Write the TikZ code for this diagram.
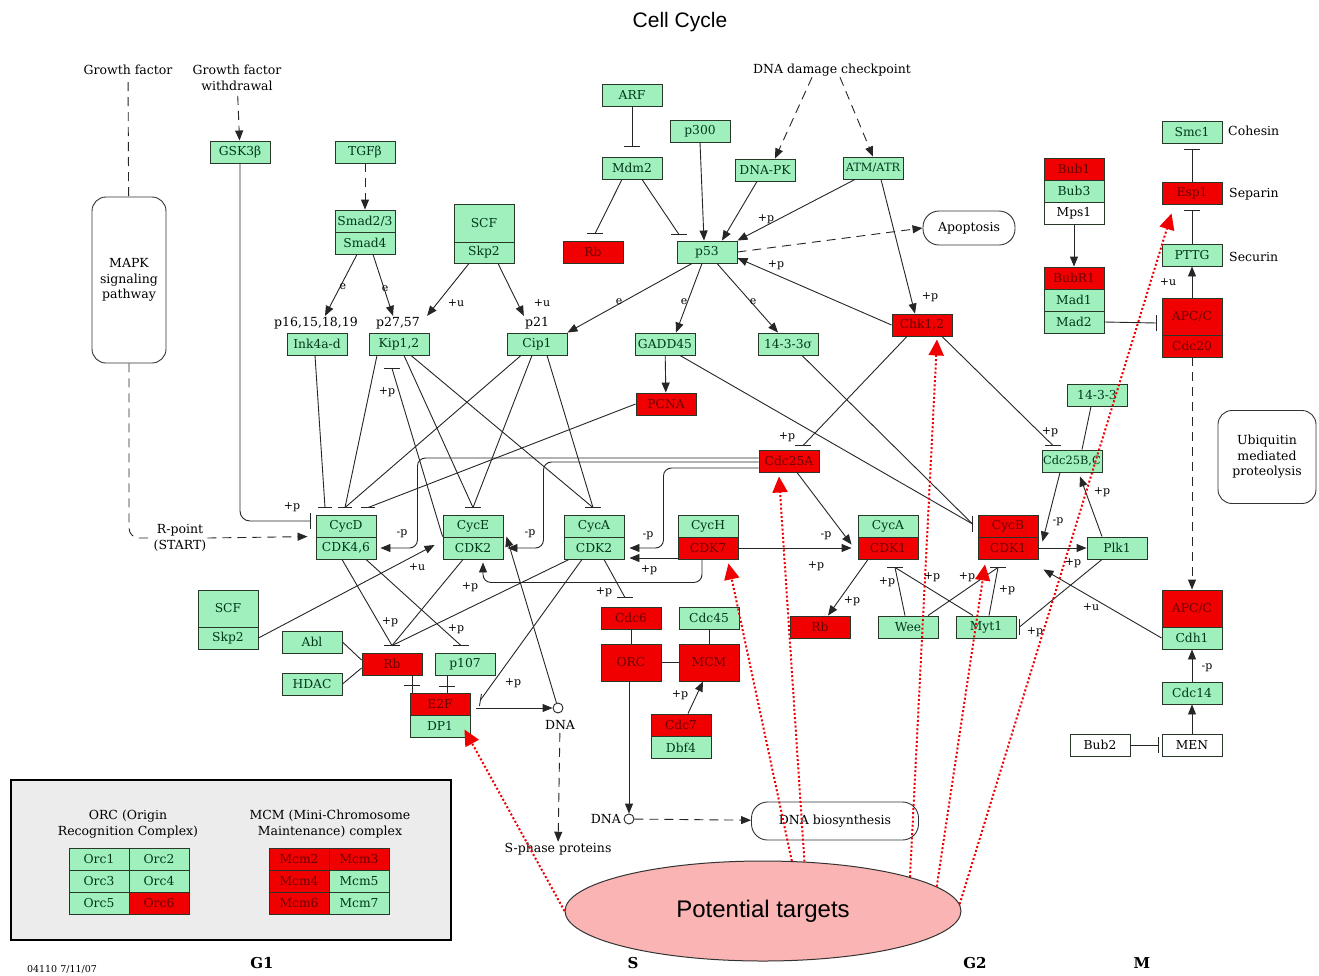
\documentclass[tikz,border=0pt]{standalone}
\usepackage{fontspec}
\setmainfont{DejaVu Serif}
\newfontfamily\sansf{Liberation Sans}
\usetikzlibrary{arrows.meta,shapes.geometric}
\definecolor{kg}{RGB}{160,240,190}
\definecolor{kr}{RGB}{240,0,0}
\definecolor{kdr}{RGB}{110,0,0}
\definecolor{kdg}{RGB}{0,55,25}
\definecolor{kb}{RGB}{40,55,40}
\definecolor{pk}{RGB}{250,180,180}
\definecolor{lgr}{RGB}{236,236,236}
\newcommand\fbx{\fontsize{12.3}{14}\selectfont}
\newcommand\fsm{\fontsize{11.4}{14}\selectfont}
\newcommand\ftx{\fontsize{12.5}{15.5}\selectfont}
\newcommand\flb{\fontsize{11}{12}\selectfont}
\newcommand\kbh[1]{\draw[ln] ([xshift=-8pt]#1) -- ([xshift=8pt]#1);}
\newcommand\kbv[1]{\draw[ln] ([yshift=-8pt]#1) -- ([yshift=8pt]#1);}
\begin{document}
\begin{tikzpicture}[x=1pt,y=-1pt,
  box/.style={rectangle, draw=kb, line width=0.9pt, minimum width=60pt, minimum height=22pt, inner sep=0pt, font=\fbx},
  gb/.style={box, fill=kg, text=kdg},
  rb/.style={box, fill=kr, text=kdr},
  wb/.style={box, fill=white, text=black},
  rnd/.style={rectangle, rounded corners=14pt, draw=black!80, line width=0.9pt, align=center, font=\ftx, inner sep=0pt},
  txt/.style={font=\ftx, align=center, inner sep=1pt},
  lbl/.style={font=\flb, inner sep=1pt},
  ln/.style={draw=black!85, line width=0.9pt},
  arr/.style={ln, -{Triangle[length=10pt,width=8pt]}},
  dsh/.style={ln, dash pattern=on 9pt off 6pt},
  dsha/.style={dsh, -{Triangle[length=10pt,width=8pt]}},
  tgt/.style={draw=kr, line width=2pt, dash pattern=on 2pt off 2.2pt, -{Triangle[length=16pt,width=15pt,fill=kr]}}
]
\useasboundingbox (0,0) rectangle (1319,975);
\fill[white] (0,0) rectangle (1319,975);

% ---------- titles and free texts
\node[font=\sansf\fontsize{21}{24}\selectfont] (title) at (680,22) {Cell Cycle};
\node[txt] (gf) at (128,70) {Growth factor};
\node[txt] (gfw) at (237,78) {Growth factor\\withdrawal};
\node[txt] (ddc) at (832,70) {DNA damage checkpoint};
\node[txt] (rpt) at (180,538) {R-point\\(START)};

% ---------- legend
\node[draw=black, line width=2pt, fill=lgr, minimum width=440pt, minimum height=160pt, inner sep=0pt] (leg) at (231,860) {};
\node[txt] (orct) at (128,824) {ORC (Origin\\Recognition Complex)};
\node[txt] (mcmt) at (330,824) {MCM (Mini-Chromosome\\Maintenance) complex};
\node[gb] (orc1) at (99,859) {Orc1};
\node[gb] (orc2) at (159,859) {Orc2};
\node[gb] (orc3) at (99,881) {Orc3};
\node[gb] (orc4) at (159,881) {Orc4};
\node[gb] (orc5) at (99,903) {Orc5};
\node[rb] (orc6) at (159,903) {Orc6};
\node[rb] (mcm2) at (299,859) {Mcm2};
\node[rb] (mcm3) at (359,859) {Mcm3};
\node[rb] (mcm4) at (299,881) {Mcm4};
\node[gb] (mcm5) at (359,881) {Mcm5};
\node[rb] (mcm6) at (299,903) {Mcm6};
\node[gb] (mcm7) at (359,903) {Mcm7};

% ---------- boxes
\node[rnd, minimum width=74pt, minimum height=166pt] (mapk) at (129,280) {MAPK\\signaling\\pathway};
\node[gb] (gsk) at (240,152) {GSK3β};
\node[gb] (tgf) at (365,152) {TGFβ};
\node[gb] (smad23) at (365,221) {Smad2/3};
\node[gb] (smad4) at (365,243) {Smad4};
\node[gb, minimum height=38pt] (scf1) at (484,223) {SCF};
\node[gb, minimum height=21pt] (skp2a) at (484,252.5) {Skp2};
\node[gb] (arf) at (632,95) {ARF};
\node[gb] (mdm2) at (632,168) {Mdm2};
\node[gb] (p300) at (700,131) {p300};
\node[gb] (dnapk) at (765,170) {DNA-PK};
\node[gb, font=\fsm] (atm) at (873,168) {ATM/ATR};
\node[rb] (rbtop) at (593,252) {Rb};
\node[gb] (p53) at (707,252) {p53};
\node[rnd, minimum width=92pt, minimum height=34pt, rounded corners=16pt] (apop) at (969,228) {Apoptosis};
\node[gb] (ink4) at (317,344) {Ink4a-d};
\node[txt] (l16) at (316,323) {p16,15,18,19};
\node[gb] (kip) at (399,344) {Kip1,2};
\node[txt] (l27) at (398,323) {p27,57};
\node[gb] (cip) at (537,344) {Cip1};
\node[txt] (l21) at (537,323) {p21};
\node[gb] (gadd) at (665,344) {GADD45};
\node[gb] (s1433s) at (788,344) {14-3-3σ};
\node[rb] (chk) at (922,325) {Chk1,2};
\node[rb] (bub1) at (1074,169) {Bub1};
\node[gb] (bub3) at (1074,191) {Bub3};
\node[wb] (mps1) at (1074,213) {Mps1};
\node[rb] (bubr1) at (1074,278) {BubR1};
\node[gb] (mad1) at (1074,300) {Mad1};
\node[gb] (mad2) at (1074,322) {Mad2};
\node[gb] (smc1) at (1192,132) {Smc1};
\node[txt, anchor=west] (coh) at (1227,131) {Cohesin};
\node[rb] (esp1) at (1192,193) {Esp1};
\node[txt, anchor=west] (sep) at (1228,194) {Separin};
\node[gb] (pttg) at (1192,255) {PTTG};
\node[txt, anchor=west] (sec) at (1228,257) {Securin};
\node[rb, minimum height=37pt] (apcc1) at (1192,316.5) {APC/C};
\node[rb] (cdc20) at (1192,346) {Cdc20};
\node[gb] (s1433) at (1097,395) {14-3-3};
\node[rnd, minimum width=98pt, minimum height=93pt] (ubq) at (1267,457) {Ubiquitin\\mediated\\proteolysis};
\node[gb, font=\fsm] (cdc25bc) at (1072,461) {Cdc25B,C};
\node[rb] (pcna) at (666,404) {PCNA};
\node[rb] (cdc25a) at (789,461) {Cdc25A};
\node[gb] (cycd) at (346,526) {CycD};
\node[gb] (cdk46) at (346,548) {CDK4,6};
\node[gb] (cyce) at (473,526) {CycE};
\node[gb] (cdk2e) at (473,548) {CDK2};
\node[gb] (cyca2) at (594,526) {CycA};
\node[gb] (cdk2a) at (594,548) {CDK2};
\node[gb] (cych) at (708,526) {CycH};
\node[rb] (cdk7) at (708,548) {CDK7};
\node[gb] (cyca1) at (888,526) {CycA};
\node[rb] (cdk1a) at (888,548) {CDK1};
\node[rb] (cycb) at (1008,526) {CycB};
\node[rb] (cdk1b) at (1008,548) {CDK1};
\node[gb] (plk1) at (1117,548) {Plk1};
\node[rb] (rbr) at (820,627) {Rb};
\node[gb] (wee) at (908,627) {Wee};
\node[gb] (myt1) at (986,627) {Myt1};
\node[rb, minimum height=37pt] (apcc2) at (1192,608.5) {APC/C};
\node[gb] (cdh1) at (1192,638) {Cdh1};
\node[gb] (cdc14) at (1192,693) {Cdc14};
\node[wb] (bub2) at (1100,745) {Bub2};
\node[wb] (men) at (1192,745) {MEN};
\node[gb] (abl) at (312,642) {Abl};
\node[gb] (hdac) at (312,684) {HDAC};
\node[gb, minimum height=37pt] (scf2) at (228,608.5) {SCF};
\node[gb] (skp2b) at (228,638) {Skp2};
\node[rb] (rbl) at (392,664) {Rb};
\node[gb] (p107) at (465,664) {p107};
\node[rb] (e2f) at (440,704) {E2F};
\node[gb] (dp1) at (440,726) {DP1};
\node[circle, draw=black!85, line width=0.9pt, minimum size=10pt, inner sep=0pt] (dna1) at (558,708) {};
\node[txt] (dnal1) at (560,725) {DNA};
\node[rb] (cdc6) at (631,618) {Cdc6};
\node[rb, minimum height=37pt] (orc) at (631,662.5) {ORC};
\node[gb] (cdc45) at (709,618) {Cdc45};
\node[rb, minimum height=37pt] (mcm) at (709,662.5) {MCM};
\node[rb] (cdc7) at (681,725) {Cdc7};
\node[gb] (dbf4) at (681,747.5) {Dbf4};
\node[circle, draw=black!85, line width=0.9pt, minimum size=10pt, inner sep=0pt] (dna2) at (629,819) {};
\node[txt, anchor=east] (dnal2) at (622,819) {DNA};
\node[txt] (sph) at (558,849) {S-phase proteins};
\node[rnd, minimum width=167pt, minimum height=38pt, rounded corners=16pt] (dnabio) at (835,821) {DNA biosynthesis};
\node[ellipse, draw=black!80, line width=1pt, fill=pk, minimum width=396pt, minimum height=100pt, inner sep=0pt, font=\sansf\fontsize{24}{26}\selectfont] (pt) at (763,911) {Potential targets};

% ---------- phase labels
\node[font=\fontsize{15}{18}\selectfont\bfseries] (g1) at (262,963) {G1};
\node[font=\fontsize{15}{18}\selectfont\bfseries] (sl) at (633,963) {S};
\node[font=\fontsize{15}{18}\selectfont\bfseries] (g2) at (975,963) {G2};
\node[font=\fontsize{15}{18}\selectfont\bfseries] (ml) at (1142,963) {M};
\node[font=\fontsize{9.5}{11}\selectfont] (ver) at (62,969) {04110 7/11/07};

% ---------- bar coordinates
\coordinate (bD1) at ([xshift=-21pt,yshift=7pt]cycd.north);
\coordinate (bD2) at ([xshift=-1pt,yshift=7pt]cycd.north);
\coordinate (bD3) at ([xshift=22pt,yshift=7pt]cycd.north);
\coordinate (bE) at ([yshift=7pt]cyce.north);
\coordinate (bA2) at ([xshift=-1pt,yshift=7pt]cyca2.north);
\coordinate (bK) at ([xshift=-7pt,yshift=-13pt]kip.south);
\coordinate (bG) at ([xshift=-5pt,yshift=5pt]cycd.west);
\coordinate (bRl) at ([yshift=7pt]rbl.north);
\coordinate (bP107) at ([xshift=-4pt,yshift=7pt]p107.north);
\coordinate (bE2F) at ([xshift=10pt,yshift=4pt]e2f.east);
\coordinate (bC6) at ([xshift=-6pt,yshift=9pt]cdc6.north);
\coordinate (bA1) at ([xshift=7pt,yshift=-8pt]cdk1a.south);
\coordinate (bB) at ([xshift=-10pt,yshift=-8pt]cdk1b.south);
\coordinate (bBw) at ([xshift=-5pt,yshift=2pt]cycb.west);
\coordinate (bMyt) at ([xshift=3pt]myt1.east);
\coordinate (bC25a) at ([xshift=14pt,yshift=4pt]cdc25a.north);
\coordinate (bC25b) at ([xshift=-19pt,yshift=4pt]cdc25bc.north);
\coordinate (bMdm) at ([yshift=10pt]mdm2.north);
\coordinate (bRbt) at ([xshift=2pt,yshift=7pt]rbtop.north);
\coordinate (bP53) at ([xshift=-28pt,yshift=6pt]p53.north);
\coordinate (bEsp) at ([yshift=-6pt]esp1.south);
\coordinate (bSmc) at ([yshift=-6pt]smc1.south);
\coordinate (bApc) at ([xshift=-5pt,yshift=-6.5pt]apcc1.west);
\coordinate (bMEN) at ([xshift=-3pt]men.west);
\coordinate (x1) at ([xshift=20pt,yshift=-10pt]rbl.south);
\coordinate (x2) at ([xshift=-18pt,yshift=-10.5pt]p107.south);

% ---------- connectors: top left
\draw[dsh, shorten <=6pt] (gf) -- (mapk);
\draw[dsh, rounded corners=10pt] (mapk.south) |- (rpt.west);
\draw[dsha] (rpt.east) -- ([xshift=-8pt]cdk46.north west);
\draw[dsha, shorten <=4pt] (gfw) -- (gsk);
\draw[ln, rounded corners=10pt] (gsk.south) |- (bG); \kbv{bG}
\draw[dsha] (tgf) -- (smad23);
\draw[arr] ([xshift=-8pt]smad4.south) -- ([xshift=9pt]l16.north);
\draw[arr] ([xshift=8pt]smad4.south) -- ([xshift=-5pt]l27.north);
\draw[arr] ([xshift=-15pt]skp2a.south) -- ([xshift=6pt]l27.north east);
\draw[arr] ([xshift=14pt]skp2a.south) -- (l21.north west);

% p53 region
\draw[ln] (arf) -- (bMdm); \kbh{bMdm}
\draw[ln] ([xshift=-10pt]mdm2.south) -- (bRbt); \kbh{bRbt}
\draw[ln] ([xshift=10pt]mdm2.south) -- (bP53); \kbh{bP53}
\draw[arr] (p300.south) -- ([xshift=-3pt]p53.north);
\draw[arr] ([xshift=-8pt]dnapk.south) -- ([xshift=15pt]p53.north);
\draw[arr] ([xshift=-18pt]atm.south) -- (p53.north east);
\draw[dsha] ([xshift=-20pt]ddc.south) -- ([xshift=10pt]dnapk.north);
\draw[dsha] ([xshift=8pt]ddc.south) -- (atm.north);
\draw[arr] ([xshift=8pt]atm.south) -- ([xshift=-7pt]chk.north);
\draw[dsha] (p53.east) -- (apop.west);
\draw[arr] (chk.west) -- ([yshift=-6pt]p53.east);
\draw[arr] ([xshift=-15pt]p53.south) -- (cip.north east);
\draw[arr] ([xshift=-5pt]p53.south) -- ([xshift=11pt]gadd.north);
\draw[arr] ([xshift=10pt]p53.south) -- ([xshift=-10pt]s1433s.north);
\draw[arr] (gadd) -- (pcna);
\draw[ln] ([xshift=15pt]gadd.south) -- (bBw);
\draw[ln] ([xshift=14pt]s1433s.south) -- (bBw); \kbv{bBw}
\draw[ln] ([xshift=-15pt]chk.south) -- (bC25a); \kbh{bC25a}
\draw[ln] ([xshift=20pt]chk.south) -- (bC25b); \kbh{bC25b}

% right side
\draw[ln] ([xshift=-6pt]s1433.south) -- ([xshift=10pt]cdc25bc.north);
\draw[arr] ([xshift=-12pt]cdc25bc.south) -- ([xshift=4pt,yshift=-5pt]cdk1b.north east);
\draw[arr] (cdk1b.east) -- (plk1.west);
\draw[arr] ([xshift=-15pt]plk1.north) -- ([xshift=8pt,yshift=-4pt]cdc25bc.south);
\draw[ln] ([xshift=-15pt]plk1.south) -- (bMyt); \kbv{bMyt}
\draw[arr] (cdh1.west) -- ([xshift=5pt,yshift=-10pt]cdk1b.south east);
\draw[dsha] (cdc20) -- (apcc2);
\draw[arr] (apcc1) -- (pttg);
\draw[ln] (pttg) -- (bEsp); \kbh{bEsp}
\draw[ln] (esp1) -- (bSmc); \kbh{bSmc}
\draw[ln] (mad2.east) -- (bApc); \kbv{bApc}
\draw[arr] (mps1) -- (bubr1);
\draw[arr] (cdc14) -- (cdh1);
\draw[arr] (men) -- (cdc14);
\draw[ln] (bub2) -- (bMEN); \kbv{bMEN}

% G2 kinases
\draw[ln] ([xshift=-3pt]wee.north) -- (bA1);
\draw[ln] ([xshift=-13pt]myt1.north) -- (bA1); \kbh{bA1}
\draw[ln] ([xshift=20pt]wee.north) -- (bB);
\draw[ln] ([xshift=3pt]myt1.north) -- (bB); \kbh{bB}
\draw[arr] ([xshift=-20pt]cdk1a.south) -- ([xshift=8pt]rbr.north);
\draw[arr] (cdk7.east) -- ([xshift=-6pt]cdk1a.west);
\draw[arr] ([xshift=8pt]cdc25a.south) -- ([xshift=-6pt,yshift=-8pt]cdk1a.north west);

% Cdc25A loops
\draw[arr, rounded corners=8pt] ([yshift=3pt]cdc25a.west) -| ([xshift=41pt]cdk46.east) -- ([xshift=4pt]cdk46.east);
\draw[arr, rounded corners=8pt] ([yshift=-1pt]cdc25a.west) -| ([xshift=40pt]cdk2e.east) -- ([xshift=4pt]cdk2e.east);
\draw[arr, rounded corners=8pt] ([yshift=-7pt]cdc25a.west) -| ([xshift=39pt]cdk2a.east) -- ([xshift=5pt]cdk2a.east);
\draw[arr] ([yshift=-10pt]cdk7.west) -- ([xshift=5pt,yshift=-10pt]cdk2a.east);
\draw[arr, rounded corners=8pt] ([xshift=-6pt]cdk7.south) -- ++(0,23) -| ([xshift=10pt,yshift=-3pt]cdk2e.south);

% G1 network
\draw[ln] (cdk2e.north west) -- (bK); \kbh{bK}
\draw[arr] (skp2b.east) -- ([xshift=-8pt,yshift=3pt]cdk2e.west);
\draw[ln] ([xshift=-2pt]ink4.south) -- (bD1);
\draw[ln] ([xshift=-22pt]kip.south) -- (bD2);
\draw[ln] ([xshift=-16pt]cip.south) -- (bD2);
\draw[ln] (pcna.west) -- (bD3);
\draw[ln] ([xshift=-7pt]bD1) -- ([xshift=7pt]bD1);
\draw[ln] ([xshift=-7pt]bD2) -- ([xshift=7pt]bD2);
\draw[ln] ([xshift=-7pt]bD3) -- ([xshift=7pt]bD3);
\draw[ln] ([xshift=5pt]kip.south) -- (bE);
\draw[ln] ([xshift=-5pt]cip.south) -- (bE); \kbh{bE}
\draw[ln] ([xshift=12pt]kip.south) -- (bA2);
\draw[ln] ([xshift=10pt]cip.south) -- (bA2); \kbh{bA2}
\draw[ln] ([xshift=-4pt]cdk46.south) -- (bRl);
\draw[ln] ([xshift=20pt]cdk46.south) -- (bP107); \kbh{bP107}
\draw[ln] ([xshift=-10pt]cdk2e.south) -- (bRl);
\draw[ln] ([xshift=-25pt]cdk2a.south) -- (bRl); \kbh{bRl}
\draw[ln] ([xshift=-12pt]cdk2a.south) -- (bE2F);
\draw[ln] ([xshift=-1pt,yshift=-6pt]bE2F) -- ([xshift=1pt,yshift=6pt]bE2F);
\draw[ln] ([xshift=20pt]rbl.south) -- ([xshift=-28pt]e2f.north); \kbh{x1}
\draw[ln] ([xshift=-18pt]p107.south) -- ([xshift=7pt]e2f.north); \kbh{x2}
\draw[ln] (abl.east) -- ([yshift=4pt]rbl.west);
\draw[ln] (hdac.east) -- ([yshift=-4pt]rbl.west);
\draw[arr] ([xshift=6pt,yshift=-4pt]e2f.east) -- (dna1);
\draw[dsha, shorten <=2pt] (dnal1) -- (sph);
\draw[arr] (dna1) -- ([xshift=3pt]cdk2e.north east);
\draw[ln] ([xshift=10pt]cdk2a.south) -- (bC6); \kbh{bC6}
\draw[ln] (cdc6) -- (orc);
\draw[ln] (cdc45) -- (mcm);
\draw[ln] (orc) -- (mcm);
\draw[arr] ([xshift=-2pt]orc.south) -- (dna2);
\draw[arr] ([xshift=7pt]cdc7.north) -- ([xshift=-6pt]mcm.south);
\draw[dsha] (dna2) -- (dnabio);

% ---------- edge labels
\foreach \x/\y/\t [count=\i] in {292/507/+p, 343/287/e, 385/289/e, 456/303/+u, 542/303/+u,
  766/219/+p, 776/265/+p, 930/297/+p, 619/302/e, 684/302/e, 753/302/e, 787/437/+p,
  1050/432/+p, 1168/282/+u, 1058/522/-p, 1073/563/+p, 1102/492/+p, 1035/632/+p,
  1091/607/+u, 1207/668/-p, 887/582/+p, 932/577/+p, 967/577/+p, 1007/590/+p,
  852/601/+p, 816/566/+p, 826/536/-p, 402/534/-p, 530/534/-p, 648/536/-p,
  649/570/+p, 470/587/+p, 387/392/+p, 417/567/+u, 390/622/+p, 456/629/+p,
  513/683/+p, 604/592/+p, 680/695/+p}
  \node[lbl] (el\i) at (\x,\y) {\t};

% ---------- potential targets
\draw[tgt] (pt.180) -- ([xshift=-6pt,yshift=8pt]dp1.south east);
\draw[tgt] (pt.60) -- ([xshift=-10pt,yshift=-4pt]cdk7.south east);
\draw[tgt] (pt.50) -- ([xshift=-10pt,yshift=-4pt]cdc25a.south);
\draw[tgt] (pt.13) -- ([xshift=15pt,yshift=-3pt]chk.south);
\draw[tgt] (pt.8) -- ([xshift=-23pt,yshift=-5pt]cdk1b.south);
\draw[tgt] (pt.2) -- ([xshift=10pt,yshift=-9pt]esp1.south west);
\end{tikzpicture}
\end{document}
